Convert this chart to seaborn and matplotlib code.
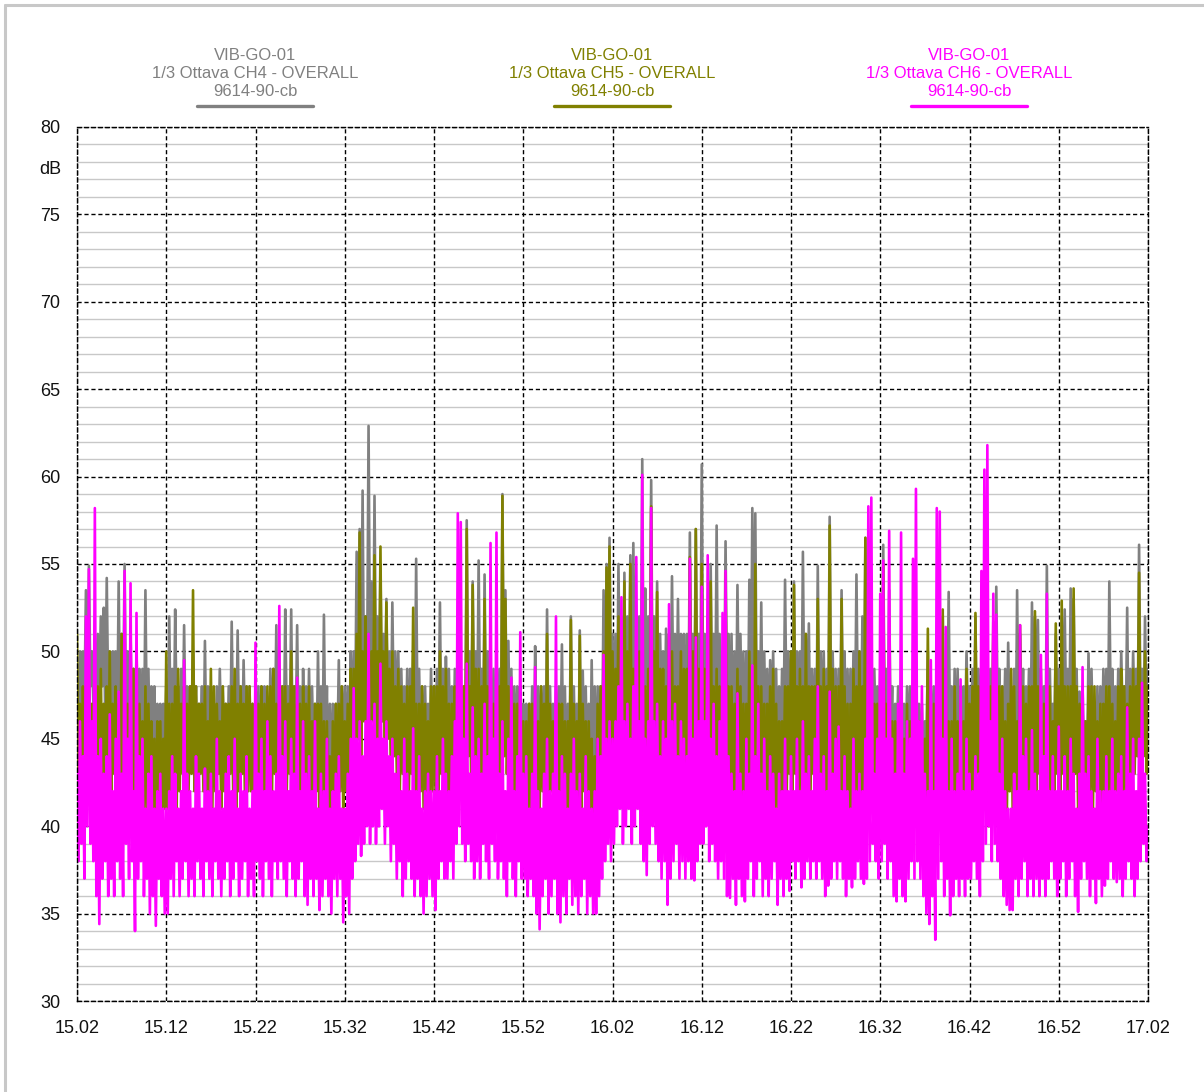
import matplotlib
matplotlib.use("Agg")
import matplotlib.pyplot as plt
from matplotlib.lines import Line2D
import numpy as np
import pandas as pd
import seaborn as sns

# readings every 10 s from 15.02: local highs on the 20 s marks, local lows in between
samples_per_min = 3
tick_minutes = list(range(0, 121, 10))
tick_labels = ["15.02", "15.12", "15.22", "15.32", "15.42", "15.52", "16.02",
               "16.12", "16.22", "16.32", "16.42", "16.52", "17.02"]

station = "VIB-GO-01"
serial = "9614-90-cb"
channels = ["1/3 Ottava CH4 - OVERALL", "1/3 Ottava CH5 - OVERALL", "1/3 Ottava CH6 - OVERALL"]
colors = ["#808080", "#808000", "#ff00ff"]

# dB, one row per 10 minutes
ch4_high = [
    48, 50, 50, 53.5, 54.9, 50, 51, 51, 52, 52.5, 54.2, 50, 50, 50, 54, 51, 55, 50, 51, 49, 50, 49, 49, 53.5, 49, 48, 48, 47, 47, 47,
    48, 52, 49, 52.4, 48, 49, 51.5, 48, 48, 50, 48, 47, 48, 50.6, 48, 48, 47, 48, 49, 48, 47, 48, 51.7, 48, 51.2, 48, 49.5, 48, 48, 47,
    47, 48, 48, 48, 47, 49, 49, 51.5, 48, 48, 52.4, 48, 52.4, 48, 51.5, 48, 49, 48, 49, 48, 47, 50, 48, 52.1, 48, 47, 47, 47, 49.5, 48,
    48, 48, 50, 50, 55.7, 57, 59.2, 52, 62.9, 54, 58.9, 52, 55, 51, 53, 50, 52.8, 50, 50, 49, 48, 49, 49, 50, 55.3, 49, 48, 48, 47, 49,
    48, 49, 52.8, 49, 49.7, 49, 48, 49, 49, 48, 48, 57.5, 50, 54, 50, 55.2, 49, 54.4, 50, 49, 49, 48, 49, 59, 53.5, 50.6, 49, 48, 48, 48,
    47, 47, 47, 48, 50.3, 48, 48, 48, 52.4, 48, 47, 48, 48, 50.4, 48, 47, 52, 48, 47, 51.2, 48.9, 48, 47, 49.5, 48, 48, 48, 53.5, 55, 56.5,
    51, 51, 55, 52, 54.5, 52, 55.5, 56.2, 52, 52, 61, 53.6, 52, 59.8, 52, 54, 51, 50, 51.3, 51, 54.3, 51, 53, 51, 51, 51, 56.8, 51, 57, 51,
    60.7, 51, 52, 55, 51, 57.2, 51, 50, 56.3, 51, 51, 50, 53.8, 51, 50, 50, 54.1, 58.2, 57.9, 50, 52.8, 50, 49, 49.5, 50, 49, 48, 49, 54.1, 50,
    50, 54, 50, 50, 55.7, 51, 51.6, 49, 49, 54.9, 50, 50, 49, 57.7, 50, 49, 49, 53.5, 50, 49, 49, 50, 54.4, 50, 52, 56.5, 50, 49, 49, 48,
    49, 56.1, 49, 53.5, 48, 47, 48, 46, 47, 48, 48, 46, 47, 47, 47, 46, 50, 48, 48, 48, 47, 52, 49, 53.4, 48, 49, 49, 48, 48, 50,
    48, 49, 52, 49, 49, 49, 48, 49, 51, 53.7, 49, 48, 49, 50.5, 48, 49, 53.5, 51, 49, 48, 49, 52.8, 52, 51.8, 49, 48, 54.9, 49, 47, 51,
    49, 52, 52.4, 49, 53.6, 53, 49, 47.7, 48, 46, 49.9, 49, 47, 48, 48, 49, 49, 54, 49, 48, 49, 50, 48, 52.5, 49, 50, 49, 56.1, 49, 52,
    49,
]
ch4_low = [
    45, 46, 47, 46, 48, 47, 46, 47, 48, 46, 47, 46, 47, 45, 46, 47, 46, 45, 46, 45, 46, 45, 44, 45, 44, 45, 43, 44, 43, 44,
    44, 45, 44, 46, 45, 44, 45, 44, 45, 46, 44, 45, 43, 44, 45, 44, 43, 44, 45, 44, 43, 44, 45, 44, 45, 44, 45, 44, 43, 44,
    44, 43, 45, 44, 43, 44, 45, 44, 45, 44, 46, 45, 44, 45, 44, 43, 45, 44, 43, 44, 43, 44, 43, 44, 42, 42, 43, 44, 43, 44,
    44, 43, 45, 46, 47, 48, 47, 48, 49, 47, 48, 47, 46, 47, 46, 45, 46, 45, 44, 45, 44, 43, 45, 44, 45, 44, 43, 44, 43, 44,
    44, 45, 44, 43, 45, 44, 43, 44, 45, 44, 45, 46, 45, 46, 45, 46, 44, 45, 44, 43, 44, 45, 44, 46, 45, 44, 43, 44, 45, 44,
    43, 44, 43, 42, 44, 43, 44, 43, 44, 43, 42, 43, 44, 43, 42, 43, 44, 43, 42, 43, 44, 43, 42, 43, 42, 43, 44, 45, 46, 47,
    46, 45, 47, 46, 45, 47, 46, 48, 46, 47, 46, 48, 47, 46, 47, 45, 46, 45, 46, 47, 46, 45, 46, 47, 45, 46, 47, 46, 47, 46,
    46, 45, 46, 47, 45, 46, 45, 46, 47, 45, 44, 45, 46, 45, 44, 45, 46, 47, 46, 45, 44, 45, 44, 45, 44, 43, 44, 45, 46, 45,
    45, 46, 44, 45, 46, 45, 44, 45, 44, 46, 45, 44, 45, 46, 45, 44, 45, 46, 44, 45, 44, 45, 46, 44, 45, 46, 45, 44, 45, 44,
    45, 46, 44, 45, 43, 44, 43, 42, 43, 44, 43, 42, 43, 42, 43, 44, 43, 44, 43, 44, 45, 44, 45, 44, 43, 44, 45, 44, 45, 46,
    44, 45, 44, 45, 43, 44, 45, 44, 45, 46, 44, 45, 44, 45, 44, 43, 45, 46, 44, 45, 44, 45, 46, 45, 44, 43, 45, 44, 45, 46,
    44, 45, 46, 44, 45, 46, 44, 43, 44, 43, 44, 45, 44, 43, 44, 45, 44, 46, 45, 44, 45, 46, 45, 44, 45, 46, 45, 46, 45, 46,
]
ch5_high = [
    51, 47, 48, 48, 50, 47, 47, 48, 49, 47, 48, 50, 47, 48, 47, 51, 48, 47, 47, 49, 48, 47, 46, 48, 47, 46, 45, 46, 46, 45,
    50, 47, 47, 48, 49, 47, 48, 47, 48, 53.5, 48, 47, 47, 48, 46, 49, 48, 47, 46, 48, 47, 47, 48, 49, 47, 48, 47, 48, 48, 47,
    47, 47, 48, 47, 48, 48, 49, 47, 47, 48, 48, 47, 50, 48, 47, 47, 48, 47, 48, 46, 47, 47, 47, 46, 46, 44, 46, 47, 47, 48,
    46, 47, 49, 49, 51, 56.8, 50, 52, 50, 50, 55.5, 50, 56, 50, 52.8, 49, 50, 48, 49, 48, 47, 48, 48, 52.5, 47, 47, 48, 47, 46, 48,
    48, 48, 50, 48, 49, 47, 47, 48, 48, 47, 48, 57, 48, 53.8, 49, 49, 48, 53, 48, 48, 47, 47, 48, 58.9, 53, 48, 48, 47, 47, 48,
    46, 46, 47, 47, 46, 46, 48, 47, 51, 47, 46, 46, 47, 47, 46, 46, 51.8, 47, 46, 50.9, 47, 46, 46, 45, 44, 47, 48, 50, 54.8, 56,
    50, 49, 52, 50, 54, 50, 55, 49, 50, 50, 48, 48, 49, 58.3, 50, 53.4, 49, 49, 48, 51, 50, 48, 48, 50, 49, 49, 55.4, 50, 57, 49,
    55, 49, 48, 54, 48, 49, 48, 47, 54.5, 48, 48, 47, 49, 48, 47, 47, 50, 48, 55, 48, 48, 47, 47, 48, 49, 47, 46, 46, 48, 48,
    50, 53.8, 48, 49, 48, 51, 48, 48, 48, 53, 48, 49, 48, 57.2, 49, 48, 48, 53, 48, 47, 47, 49, 48, 50, 48, 56.5, 49, 48, 47, 47,
    48, 55, 47, 47, 46, 46, 46, 45, 45, 47, 46, 45, 45, 46, 45, 45, 51.3, 46, 47, 46, 46, 52.4, 47, 46, 46, 48, 46, 47, 46, 49,
    47, 48, 52.2, 48, 48, 47, 47, 48, 51.7, 47, 48, 48, 46, 47, 49, 48, 46, 51.5, 48, 47, 48, 48, 52.3, 48, 46, 47, 48, 48, 46, 51.6,
    48, 52.9, 48, 48, 48, 53.6, 48, 47, 47, 46, 48, 48, 48, 46, 47, 47, 48, 48, 47, 46, 48, 49, 48, 47, 48, 49, 48, 54.5, 48, 50,
    48,
]
ch5_low = [
    42, 41, 43, 42, 41, 43, 42, 41, 42, 43, 41, 42, 43, 41, 42, 41, 42, 43, 41, 42, 41, 42, 40, 41, 42, 40, 39, 41, 40, 41,
    41, 42, 43, 41, 42, 43, 41, 42, 43, 42, 41, 43, 42, 41, 42, 41, 42, 43, 41, 42, 41, 43, 42, 41, 42, 43, 41, 42, 42, 41,
    41, 42, 40, 41, 42, 41, 43, 41, 42, 41, 42, 43, 41, 42, 41, 40, 42, 41, 40, 41, 42, 40, 41, 40, 39, 38.6, 40, 41, 42, 41,
    42, 41, 43, 44, 45, 44, 46, 44, 45, 46, 44, 45, 46, 44, 45, 43, 44, 43, 42, 43, 42, 41, 43, 42, 41, 42, 41, 42, 41, 42,
    42, 41, 43, 42, 41, 42, 43, 41, 42, 41, 43, 44, 43, 44, 42, 43, 42, 43, 42, 41, 42, 41, 43, 44, 43, 42, 41, 42, 41, 42,
    41, 40, 41, 42, 40, 41, 42, 40, 41, 42, 40, 41, 40, 42, 41, 40, 42, 41, 40, 41, 42, 40, 41, 39, 38.8, 40, 41, 42, 43, 44,
    43, 44, 42, 43, 44, 42, 43, 44, 42, 41, 40.6, 42, 43, 44, 43, 42, 43, 41, 42, 43, 42, 41, 43, 42, 41, 43, 44, 42, 43, 42,
    43, 42, 41, 42, 41, 40, 42, 41, 42, 40, 41, 42, 40, 41, 42, 41, 40, 42, 41, 40, 41, 40, 42, 41, 40, 41, 40, 42, 41, 43,
    42, 43, 41, 42, 40, 42, 41, 43, 41, 42, 41, 40, 42, 43, 42, 41, 40, 42, 41, 40, 41, 42, 41, 40, 42, 43, 41, 42, 40, 41,
    42, 43, 41, 40, 41, 40, 41, 40, 39, 40, 41, 40, 41, 39, 40, 41, 42, 41, 40, 41, 42, 41, 40, 41, 40, 41, 40, 42, 41, 42,
    42, 41, 43, 42, 41, 42, 40, 42, 43, 41, 42, 41, 40, 42, 41, 42, 41, 43, 42, 41, 42, 40, 42, 43, 41, 40, 42, 41, 42, 43,
    42, 43, 42, 41, 42, 43, 41, 42, 40, 41, 42, 41, 42, 41, 40, 42, 41, 42, 41, 42, 43, 41, 42, 43, 42, 43, 44, 43, 44, 43,
]
ch6_high = [
    43, 46, 44, 52, 54.7, 46, 58.2, 44, 45, 43, 44, 46.4, 42, 45, 47.7, 43, 54.6, 45, 53.9, 42, 52.2, 44, 45, 41, 43, 44, 41, 42, 43, 41,
    41, 42, 44, 43, 41, 42, 49.5, 43, 42, 41, 44, 43, 41, 43.3, 42, 43, 41, 45, 42, 41, 43, 44, 42, 45, 41, 43, 42, 44, 41, 42,
    50.5, 43, 45, 42, 46, 44, 42, 43, 52.6, 44, 46, 42, 45, 43, 48.5, 42, 46, 43, 44, 42, 46, 41, 43, 42, 45, 41, 42, 43, 44, 41,
    41, 43, 45, 47.9, 45, 46, 44, 46, 51, 46, 47, 45, 49.3, 45, 46, 44, 45, 43, 44, 42, 45, 43, 42, 45.6, 42, 44, 41, 42, 43, 42,
    42, 44, 42, 45, 43, 42, 44, 46, 57.9, 57.4, 45, 49.3, 43, 46.8, 44, 45, 43, 47, 44, 56.2, 45, 56.8, 43, 46, 42, 45, 48.5, 42, 44, 51.1,
    43, 44, 41, 43, 49.1, 42, 41, 43, 45, 42, 43, 52, 42, 44, 43, 41, 43, 45, 42, 43, 41, 44, 42, 41, 42, 45, 44, 49.8, 45, 46,
    45, 46, 48, 53.1, 46, 47, 45, 48, 55.4, 46, 60.1, 45, 46, 58.2, 46, 47, 44, 46, 45, 52.7, 46, 47, 44, 46, 45, 44, 55.3, 45, 50.8, 46,
    53.7, 46, 55.5, 45, 47, 44, 46, 52.2, 54.6, 44, 43, 42, 47.6, 43, 42, 45, 43, 49.2, 44, 47, 43, 45, 42, 44, 43, 41, 43, 42, 45, 42,
    44, 42, 45, 42, 46, 43, 44, 42, 45, 48, 43, 44, 42, 47.7, 43, 45, 45.7, 42, 44, 42, 41, 45, 42, 43, 42, 45, 58.3, 58.8, 43, 45,
    53.3, 55.2, 45, 56.9, 45, 43, 47, 56.8, 43, 46, 45, 55.3, 59.3, 46, 48, 43, 42, 49.5, 42, 58.2, 58, 45, 51.4, 42, 45, 42, 43, 48.4, 42, 45,
    43, 42, 44, 43, 54.6, 60.4, 61.8, 46, 53.3, 52.1, 43, 45, 42, 41, 41, 43, 42, 51.5, 44, 45, 42, 45.5, 43, 42, 49.8, 44, 53.3, 42, 44, 42,
    45.7, 42, 44, 42, 45, 43, 41, 43, 49.1, 43, 44, 42, 41, 45, 42, 42, 44, 42, 45, 42, 43, 44, 42, 46.8, 43, 45, 42, 45, 48.2, 43,
    40,
]
ch6_low = [
    38, 39, 37, 40, 39, 38, 36, 34.4, 37, 38, 36, 37, 36, 38, 37, 36, 39, 37, 38, 34, 37, 38, 36, 37, 35, 36, 34.3, 37, 36, 35,
    35, 37, 36, 38, 36, 37, 38, 36, 37, 36, 38, 37, 36, 38, 37, 36, 38, 37, 36, 37, 38, 36, 37, 38, 36, 37, 38, 36, 37, 36,
    38, 37, 36, 38, 37, 36, 38, 37, 38, 37, 36, 38, 37, 36, 37, 38, 36, 35.5, 37, 36, 37, 35.2, 36, 37, 36, 35, 37, 36, 37, 34.5,
    36, 35, 37, 38, 39, 38.3, 39, 40, 39, 40, 39, 40, 41, 39, 40, 38, 39, 37, 38, 36, 37, 38, 37, 36, 37, 36, 35, 36, 37, 36,
    35.2, 37, 38, 37, 37, 38, 37, 39, 40, 39, 38, 39, 38, 37, 38, 37, 39, 38, 37, 39, 38, 37, 38, 37, 36, 38, 37, 36, 38, 37,
    37, 36, 37, 36, 35, 34.1, 36, 37, 35, 36, 37, 35, 34.5, 36, 35, 37, 35.5, 36, 35, 36, 37, 35, 36, 35, 35, 36, 37, 38, 39, 38,
    39, 40, 41, 39, 40, 41, 39, 40, 41, 39, 38, 37.2, 39, 40, 39, 38, 37, 38, 35.5, 37, 38, 39, 37, 38, 37, 38, 37, 36.9, 38, 39,
    39, 40, 38, 39, 38, 37, 38, 37, 36, 35.9, 37, 35.5, 37, 36, 35.7, 37, 38, 36, 37, 38, 36, 37, 36, 37, 38, 35.5, 37, 36, 37, 36.3,
    38, 37, 38, 36.5, 37, 38, 37, 38, 37, 38, 37, 36, 36.6, 37, 38, 37, 38, 37, 36, 37, 36.5, 37, 38, 37, 36.7, 37, 38, 39, 38, 37,
    38, 39, 37, 38, 36, 35.7, 37, 36, 35.7, 37, 38, 37, 38, 37, 36, 35, 34.4, 36, 33.5, 37, 38, 36, 37, 34.9, 36, 37, 36, 37, 36, 37,
    37, 38, 37, 36, 38, 39, 40, 38, 39, 38, 37, 36, 35.5, 35.2, 35.2, 37, 36, 37, 38, 36, 37, 36, 37, 36, 37, 36, 37, 38, 37, 36,
    37, 38, 36, 37, 38, 36, 35.1, 37, 38, 37, 36, 37, 35.6, 37, 36, 36.6, 37, 38, 37, 36.8, 37, 36, 37, 38, 37, 36, 37, 38, 39, 38,
]

frames = []
for name, highs, lows in zip(channels, [ch4_high, ch5_high, ch6_high], [ch4_low, ch5_low, ch6_low]):
    t_high = np.arange(len(highs)) / samples_per_min
    t_low = np.arange(len(lows)) / samples_per_min + 0.5 / samples_per_min
    frames.append(pd.DataFrame({"t": np.concatenate([t_high, t_low]),
                                "db": list(highs) + list(lows), "ch": name}))
df = pd.concat(frames, ignore_index=True).sort_values(["ch", "t"])

sns.set_style("white")
plt.rcParams["font.family"] = ["Liberation Sans", "DejaVu Sans"]

W, H = 1204, 1092
fig = plt.figure(figsize=(W / 100, H / 100), dpi=100)
ax = fig.add_axes([77 / W, 1 - 1001 / H, (1148 - 77) / W, (1001 - 127) / H])

sns.lineplot(data=df, x="t", y="db", hue="ch", hue_order=channels, palette=colors,
             estimator=None, linewidth=1.9, legend=False, ax=ax)

ax.set_xlim(0, 120)
ax.set_ylim(30, 80)
ax.set_xticks(tick_minutes)
ax.set_xticklabels(tick_labels)
ax.set_yticks(range(30, 81, 5))
ax.set_xlabel("")
ax.set_ylabel("")

# light 1 dB lines, dashed black major grid
for v in range(31, 80):
    if v % 5:
        ax.axhline(v, color="#c8c8c8", linewidth=1.0, zorder=0.3)
ax.set_axisbelow(True)
ax.grid(True, which="major", color="black", linestyle=(0, (3, 2)), linewidth=1.0)
for sp in ax.spines.values():
    sp.set_linestyle((0, (3, 2)))
    sp.set_color("black")
    sp.set_linewidth(1.0)

ax.tick_params(axis="both", direction="out", length=11, width=1.0, color="#444444",
               labelsize=13, labelcolor="#111111")
ax.tick_params(axis="y", pad=1)
ax.tick_params(axis="x", pad=3)

fig.text(50 / W, 1 - 170 / H, "dB", ha="center", va="center", fontsize=13, color="#111111")

# channel headers
centers = [255, 612, 969]
for cx, name, col in zip(centers, channels, colors):
    for yy, txt in zip([55, 74, 92], [station, name, serial]):
        fig.text(cx / W, 1 - yy / H, txt, ha="center", va="center", fontsize=12, color=col)
    fig.add_artist(Line2D([(cx - 58) / W, (cx + 58) / W], [1 - 106 / H, 1 - 106 / H],
                          color=col, linewidth=2.4, solid_capstyle="round"))

# window frame
fig.add_artist(Line2D([5 / W, 5 / W], [0, 1 - 5 / H], color="#c8c8c8", linewidth=2.2))
fig.add_artist(Line2D([5 / W, 1], [1 - 5 / H, 1 - 5 / H], color="#c8c8c8", linewidth=2.2))

fig.savefig("out.png", dpi=100)
